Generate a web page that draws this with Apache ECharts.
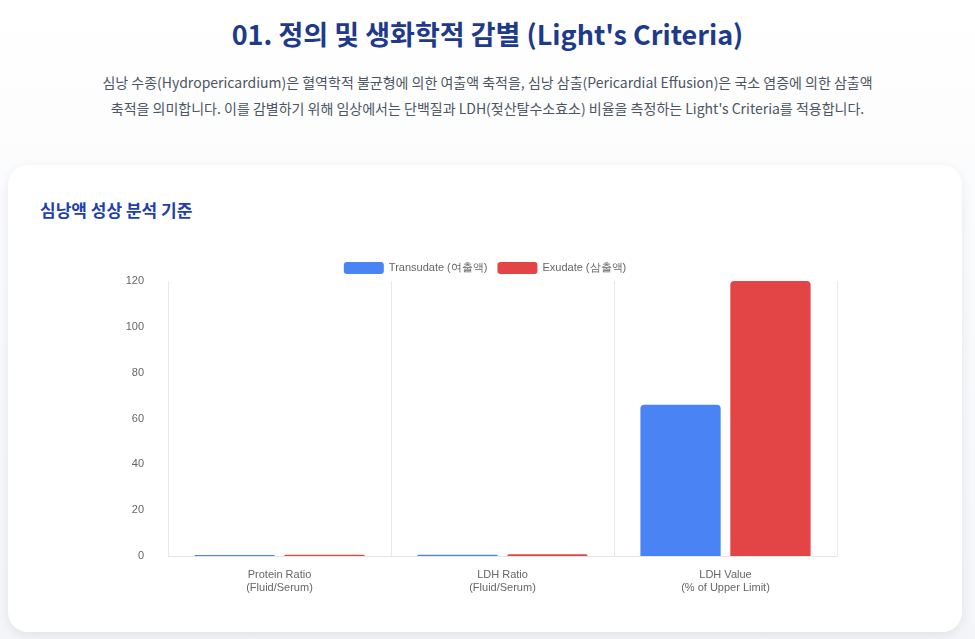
<!DOCTYPE html>
<html>
<head>
<meta charset="utf-8">
<script src="https://cdn.jsdelivr.net/npm/echarts@6/dist/echarts.min.js"></script>
<style>
  html, body { margin: 0; padding: 0; }
  body {
    width: 975px; height: 639px; overflow: hidden; position: relative;
    background: linear-gradient(#ffffff, #f3f5f9);
    font-family: "Noto Sans CJK KR", "Noto Sans", sans-serif;
  }
  h1 {
    position: absolute; top: 14px; left: 0; width: 975px; margin: 0;
    text-align: center; font-size: 27px; font-weight: 700; color: #1e3a8a;
  }
  p.intro {
    position: absolute; top: 69px; left: 20px; width: 935px; margin: 0;
    text-align: center; font-size: 14px; line-height: 26px; color: #4b5563;
  }
  .card {
    position: absolute; left: 8px; top: 165px; width: 954px; height: 467px;
    background: #fff; border-radius: 20px;
    box-shadow: 0 3px 12px rgba(0,0,0,0.08);
  }
  .card h2 {
    position: absolute; left: 32px; top: 32px; margin: 0;
    font-size: 17px; font-weight: 700; color: #1e40af;
  }
  #mychart { position: absolute; left: 0; top: 65px; width: 954px; height: 400px; }
</style>
</head>
<body>
<h1>01. 정의 및 생화학적 감별 (Light's Criteria)</h1>
<p class="intro">심낭 수종(Hydropericardium)은 혈역학적 불균형에 의한 여출액 축적을, 심낭 삼출(Pericardial Effusion)은 국소 염증에 의한 삼출액<br>축적을 의미합니다. 이를 감별하기 위해 임상에서는 단백질과 LDH(젖산탈수소효소) 비율을 측정하는 Light's Criteria를 적용합니다.</p>
<div class="card">
  <h2>심낭액 성상 분석 기준</h2>
  <div id="mychart"></div>
</div>
<script>
// 데이터
var categories = ['Protein Ratio\n(Fluid/Serum)', 'LDH Ratio\n(Fluid/Serum)', 'LDH Value\n(% of Upper Limit)']
var transudate = [0.4, 0.5, 66]
var exudate = [0.6, 0.8, 120]
var seriesNames = ['Transudate (여출액)', 'Exudate (삼출액)']

var myChart = echarts.init(document.getElementById('mychart'))

var option = {
  textStyle: { fontFamily: 'Liberation Sans, Arial, sans-serif' },
  legend: {
    top: 27,
    itemWidth: 40, itemHeight: 12, itemGap: 10,
    textStyle: { color: '#666', fontSize: 11 },
    data: seriesNames
  },
  grid: { left: 160, right: 125, top: 51, bottom: 74 },
  xAxis: {
    type: 'category',
    data: categories,
    axisTick: { show: false },
    axisLine: { lineStyle: { color: '#e5e5e5' } },
    axisLabel: { color: '#666', fontSize: 11, lineHeight: 13, margin: 12 },
    splitLine: { show: true, lineStyle: { color: '#e9e9e9' } }
  },
  yAxis: {
    type: 'value',
    min: 0, max: 120, interval: 20,
    axisLabel: { color: '#666', fontSize: 11, margin: 24 },
    splitLine: { show: false },
    axisLine: { show: false }
  },
  series: [
    {
      name: seriesNames[0],
      type: 'bar',
      data: transudate,
      barWidth: '36%',
      barGap: '12%',
      itemStyle: { color: '#4a84f4', borderRadius: [4, 4, 0, 0] }
    },
    {
      name: seriesNames[1],
      type: 'bar',
      data: exudate,
      barWidth: '36%',
      itemStyle: { color: '#e34546', borderRadius: [4, 4, 0, 0] }
    }
  ]
}

myChart.setOption(option)
</script>
</body>
</html>
